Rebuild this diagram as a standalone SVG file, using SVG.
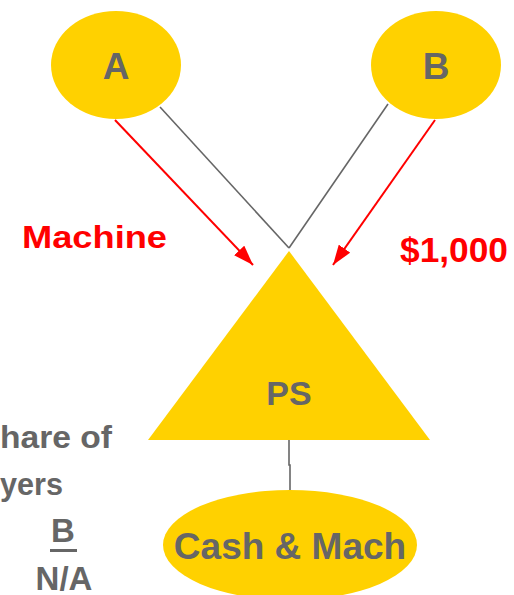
<svg xmlns="http://www.w3.org/2000/svg" width="514" height="595" viewBox="0 0 514 595">
<defs>
<style>
.node{fill:#FFD100}
.lbl{font-family:"Liberation Sans",Arial,sans-serif;font-weight:bold;fill:#666666}
.red{font-family:"Liberation Sans",Arial,sans-serif;font-weight:bold;fill:#FF0000}
.gl{stroke:#666666;stroke-width:1.6;fill:none}
.rl{stroke:#FF0000;stroke-width:2;fill:none}
</style>
<marker id="ahr" viewBox="0 0 20 14" refX="20" refY="7" markerWidth="20" markerHeight="14" orient="auto" markerUnits="userSpaceOnUse">
<path d="M0,0 L20,7 L0,14 Z" fill="#FF0000"/>
</marker>
</defs>
<rect width="514" height="595" fill="#FFFFFF"/>
<g id="connectors">
<line class="gl" x1="160" y1="107" x2="289" y2="248"/>
<line class="gl" x1="388" y1="104" x2="289" y2="248"/>
<polyline class="gl" points="289,440 289,465 290,465 290,490"/>
<line class="rl" x1="115" y1="120" x2="253" y2="265" marker-end="url(#ahr)"/>
<line class="rl" x1="435" y1="120" x2="333" y2="265" marker-end="url(#ahr)"/>
</g>
<g id="nodeA">
<ellipse class="node" cx="116" cy="65" rx="65" ry="54"/>
<text class="lbl" x="116" y="79" font-size="37" text-anchor="middle">A</text>
</g>
<g id="nodeB">
<ellipse class="node" cx="436" cy="65" rx="65" ry="54"/>
<text class="lbl" x="436" y="79" font-size="37" text-anchor="middle">B</text>
</g>
<g id="nodePS">
<polygon class="node" points="289,251 430,440 148,440"/>
<text class="lbl" x="289" y="405" font-size="34" text-anchor="middle">PS</text>
</g>
<g id="nodeCash">
<ellipse class="node" cx="290" cy="545" rx="127" ry="55"/>
<text class="lbl" x="290" y="559" font-size="37" text-anchor="middle">Cash &amp; Mach</text>
</g>
<g id="labels">
<text class="red" x="22" y="248" font-size="32" textLength="145" lengthAdjust="spacingAndGlyphs">Machine</text>
<text class="red" x="400" y="262" font-size="35" textLength="108" lengthAdjust="spacingAndGlyphs">$1,000</text>
<text class="lbl" x="0" y="448" font-size="32" textLength="112" lengthAdjust="spacingAndGlyphs">hare of</text>
<text class="lbl" x="0" y="495" font-size="32" textLength="63" lengthAdjust="spacingAndGlyphs">yers</text>
<text class="lbl" x="63" y="542" font-size="33" text-anchor="middle">B</text>
<rect x="50" y="549" width="27" height="3" fill="#666666"/>
<text class="lbl" x="64" y="590" font-size="33" text-anchor="middle">N/A</text>
</g>
</svg>
